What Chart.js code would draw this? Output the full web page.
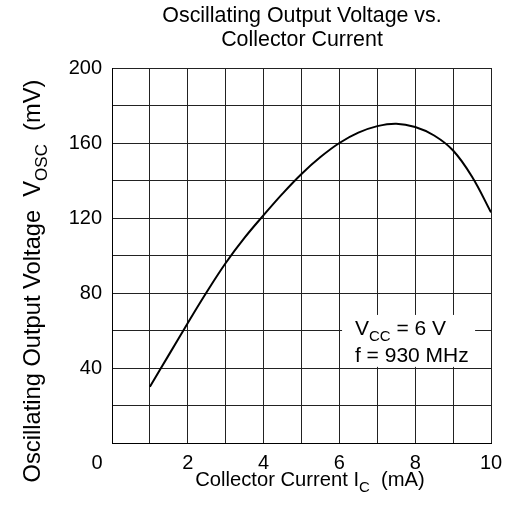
<!DOCTYPE html>
<html>
<head>
<meta charset="utf-8">
<script src="https://cdn.jsdelivr.net/npm/chart.js@4.4.0/dist/chart.umd.min.js"></script>
<style>
  html, body { margin: 0; padding: 0; background: #fff; }
</style>
</head>
<body>
<canvas id="canvas-oscilacion" width="507" height="513"></canvas>
<script>
  // datos (corriente en mA, tension en mV)
  let corriente = [1, 1.5, 2, 2.5, 3, 3.5, 4, 4.5, 5, 5.5, 6, 6.5, 7, 7.5, 8, 8.5, 9, 9.5, 10]
  let tension = [30, 47, 64, 80.5, 96, 109.5, 121.5, 133, 143.5, 152.5, 160, 165.5, 169, 170.3, 168.5, 164, 156, 142, 123]
  let ticksX = [0, 2, 4, 6, 8, 10]
  let ticksY = [40, 80, 120, 160, 200]

  let titulo = ["Oscillating Output Voltage vs.", "Collector Current"]
  let tituloX = [["Collector Current I", false], ["C", true], ["  (mA)", false]]
  let tituloY = [["Oscillating Output Voltage  V", false], ["OSC", true], ["  (mV)", false]]
  let nota1 = [["V", false], ["CC", true], [" = 6 V", false]]
  let nota2 = [["f = 930 MHz", false]]

  let puntos = []
  for (var i = 0; i < corriente.length; i++) {
    puntos.push({ x: corriente[i], y: tension[i] })
  }

  const fuente = "Liberation Sans, Arial, sans-serif"

  // dibuja un texto con partes en subindice
  function textoSub(c, partes, x, y, tam, centrado) {
    let tamSub = Math.round(tam * 0.72)
    let ancho = 0
    partes.forEach(function (p) {
      c.font = (p[1] ? tamSub : tam) + "px " + fuente
      ancho += c.measureText(p[0]).width
    })
    let xi = centrado ? x - ancho / 2 : x
    partes.forEach(function (p) {
      c.font = (p[1] ? tamSub : tam) + "px " + fuente
      c.fillText(p[0], xi, p[1] ? y + tam * 0.28 : y)
      xi += c.measureText(p[0]).width
    })
  }

  const textos = {
    id: "textos",
    afterDraw(chart) {
      const c = chart.ctx
      const sx = chart.scales.x
      const sy = chart.scales.y
      c.save()
      c.fillStyle = "#000"
      c.textBaseline = "alphabetic"
      c.textAlign = "left"

      // titulo
      textoSub(c, [[titulo[0], false]], 302, 22, 21.4, true)
      textoSub(c, [[titulo[1], false]], 302, 46, 21.4, true)

      // eje x
      textoSub(c, tituloX, 310, 486, 20.2, true)
      c.font = "20px " + fuente
      c.textAlign = "center"
      c.fillText("0", sx.getPixelForValue(0) - 15, 469)
      c.textAlign = "left"

      // eje y (rotado)
      c.save()
      c.translate(40, 281)
      c.rotate(-Math.PI / 2)
      textoSub(c, tituloY, 0, 0, 23.7, true)
      c.restore()

      // recuadro de condiciones
      let x1 = sx.getPixelForValue(6.07), x2 = sx.getPixelForValue(9.58)
      let y1 = sy.getPixelForValue(68.3), y2 = sy.getPixelForValue(40.6)
      c.fillStyle = "#fff"
      c.fillRect(x1, y1, x2 - x1, y2 - y1)
      c.fillStyle = "#000"
      textoSub(c, nota1, sx.getPixelForValue(6.41), 335, 21, false)
      textoSub(c, nota2, sx.getPixelForValue(6.41), 362, 21, false)
      c.restore()
    }
  }

  var ctx = document.getElementById("canvas-oscilacion").getContext("2d")
  var grafico = new Chart(ctx, {
    type: "scatter",
    data: {
      datasets: [
        {
          label: "Vosc",
          data: puntos,
          showLine: true,
          borderColor: "#000",
          borderWidth: 2,
          pointRadius: 0,
          tension: 0.4,
          fill: false
        }
      ]
    },
    options: {
      responsive: false,
      animation: false,
      layout: { padding: { top: 68, right: 16, left: 0, bottom: 0 } },
      plugins: {
        legend: { display: false },
        tooltip: { enabled: false }
      },
      scales: {
        x: {
          type: "linear",
          min: 0,
          max: 10,
          afterFit: function (s) { s.height = 70; s.paddingLeft = 0; s.paddingRight = 0 },
          border: { display: true, color: "#000", width: 1 },
          grid: { color: "#222", lineWidth: 1, drawTicks: false },
          ticks: {
            stepSize: 1,
            padding: 8,
            color: "#000",
            maxRotation: 0,
            autoSkip: false,
            font: { family: fuente, size: 20 },
            callback: function (v) { return (ticksX.includes(v) && v !== 0) ? v : "" }
          }
        },
        y: {
          type: "linear",
          min: 0,
          max: 200,
          afterFit: function (s) { s.width = 112; s.paddingTop = 0; s.paddingBottom = 0 },
          border: { display: true, color: "#000", width: 1 },
          grid: { color: "#222", lineWidth: 1, drawTicks: false },
          ticks: {
            stepSize: 20,
            padding: 10,
            color: "#000",
            autoSkip: false,
            font: { family: fuente, size: 20 },
            callback: function (v) { return ticksY.includes(v) ? v : "" }
          }
        }
      }
    },
    plugins: [textos]
  })
</script>
</body>
</html>
